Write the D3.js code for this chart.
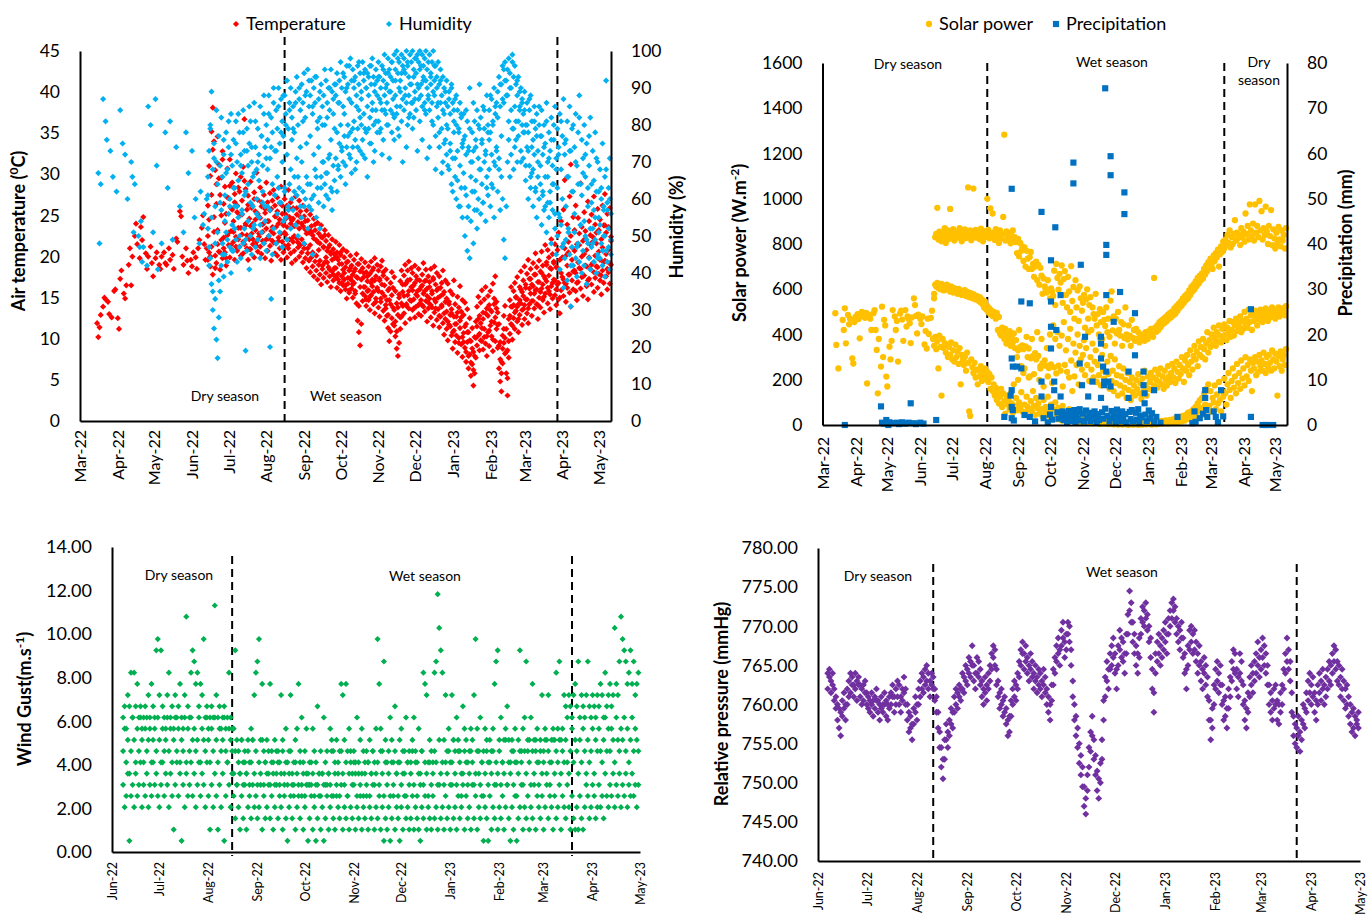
<!DOCTYPE html>
<html>
<head>
<meta charset="utf-8">
<style>
  body { margin: 0; background: #fff; }
  svg text { font-family: Lato, "Open Sans", sans-serif; fill: #000; }
</style>
<script src="https://d3js.org/d3.v7.min.js"></script>
</head>
<body>
<svg width="1368" height="923"></svg>
<script>

// ---- tick labels ----
var monthsTop = ["2022-03-01","2022-04-01","2022-05-01","2022-06-01","2022-07-01","2022-08-01","2022-09-01",
                 "2022-10-01","2022-11-01","2022-12-01","2023-01-01","2023-02-01","2023-03-01","2023-04-01","2023-05-01"];
var monthsBottom = ["2022-06-01","2022-07-01","2022-08-01","2022-09-01","2022-10-01","2022-11-01",
                    "2022-12-01","2023-01-01","2023-02-01","2023-03-01","2023-04-01","2023-05-01"];
var tempTicks = [0, 5, 10, 15, 20, 25, 30, 35, 40, 45];
var humTicks = [0, 10, 20, 30, 40, 50, 60, 70, 80, 90, 100];
var solarTicks = [0, 200, 400, 600, 800, 1000, 1200, 1400, 1600];
var precipTicks = [0, 10, 20, 30, 40, 50, 60, 70, 80];
var windTicks = [0, 2, 4, 6, 8, 10, 12, 14];
var pressTicks = [740, 745, 750, 755, 760, 765, 770, 775, 780];

// season boundaries
var seasonsA = ["2022-08-16", "2023-03-28"];
var seasonsB = ["2022-08-03", "2023-03-14"];
var seasonsC = ["2022-08-16", "2023-03-19"];
var seasonsD = ["2022-08-11", "2023-03-23"];

// ---- air temperature, tenths of a degree, one value per day ----
var tempEarlyStart = "2022-03-15";
var tempEarly = [119,102,114,129,null,139,150,148,null,145,130,null,126,null,
  158,160,null,125,112,173,183,null,155,149,165,null,190,210,
  165,200,null,225,240,215,null,198,236,220,248,null,204,185,
  200,null,212,192,176,null,198,205,null,190,185,200,null,205,
  192,190,null,210,196,null,202,185,null,222,218,null,255,249,
  200,190,null,210,195,180,null,196,188,205,null,199,185,210,
  220,null,235,250,215,196,210];
var denseStart = "2022-06-14";
var tempLow = [196,205,188,212,178,230,201, 192,215,206,184,220,198,210, 205,189,226,214,199,231,208,
  218,196,224,207,235,212,201, 227,204,215,238,210,196,221, 209,228,215,199,232,218,206,
  224,212,203,230,216,198,221, 207,225,213,195,219,228,204, 216,201,223,210,196,218,205,
  213,227,199,210,221,204,192, 218,207,196,222,211,200,214, 205,193,210,198,186,204,195,
  181,199,188,176,194,183,172, 190,178,166,185,174,193,180, 169,187,176,163,182,171,186,
  175,162,179,168,158,176,165, 172,160,149,167,156,174,161, 150,168,155,143,122,108,92,
  118,146,163,152,140,158,147, 135,153,164,142,131,149,160, 138,127,145,156,134,122,141,
  128,113,97,109,125,138,116, 103,88,79,95,112,127,140, 131,119,142,153,137,124,146,
  135,148,126,139,152,130,143, 128,141,155,133,146,121,137, 149,126,138,116,132,145,123,
  136,114,127,141,119,105,124, 112,98,117,129,104,88,110, 96,118,83,101,122,93,78,
  107,89,72,96,64,81,55, 69,43,58,77,92,104,86, 98,113,87,102,94,79,108,
  91,116,103,85,120,97,112, 89,64,48,36,70,95,82, 58,31,77,106,118,99,125,
  112,134,121,108,129,143,117, 136,124,148,131,119,142,155, 128,146,137,159,142,124,150,
  138,161,147,132,155,170,143, 158,136,164,149,172,153,141, 166,148,131,159,175,152,168,
  145,162,178,156,139,171,160, 183,158,147,169,186,161,175, 152,177,189,164,148,173,185,
  166,192,157,174,188,162,179, 171,154,183,168,195,176,160, 181,167,190];
var tempMid = [225,310,200,275,330,248,186, 264,232,295,205,250,318,223, 241,198,272,229,286,214,257,
  230,266,212,254,221,279,235, 251,218,292,240,226,263,209, 237,259,221,270,245,213,252,
  228,247,266,219,241,258,234, 243,222,256,231,268,217,249, 236,255,219,245,228,262,241,
  229,251,236,214,258,240,222, 246,225,238,259,217,234,248, 221,237,215,243,228,210,232,
  214,230,205,222,239,201,218, 208,195,224,189,212,226,199, 193,211,184,205,196,178,203,
  186,199,172,191,205,168,184, 180,165,193,174,159,186,171, 166,182,158,175,191,140,163,
  172,155,180,163,148,176,159, 151,168,183,157,171,145,162, 158,173,149,166,181,152,137,
  147,129,161,142,153,118,135, 121,109,138,150,126,143,157, 152,166,140,171,158,147,163,
  159,137,168,154,172,141,160, 147,165,139,158,171,152,144, 163,141,155,172,148,137,159,
  150,128,162,139,154,131,145, 133,121,142,115,131,108,127, 118,104,132,95,113,126,102,
  96,115,84,108,79,98,71, 88,62,79,101,115,124,106, 119,97,124,112,131,103,128,
  110,135,121,99,142,126,137, 117,92,75,58,88,112,101, 84,52,97,128,139,116,141,
  132,150,139,124,147,160,135, 152,141,166,148,137,161,173, 146,164,155,178,160,141,169,
  157,180,166,151,173,190,162, 177,154,185,168,194,171,160, 186,168,150,180,199,172,210,
  167,189,205,178,225,196,182, 207,180,168,193,214,185,200, 176,203,222,188,171,199,215,
  190,218,181,201,229,187,206, 196,177,211,193,238,203,185, 208,192,219];
var tempHigh = [262,245,298,352,381,340,305, 288,346,312,275,296,328,264, 285,252,307,271,318,259,290,
  243,276,301,262,284,251,297, 268,309,367,282,257,274,246, 291,263,240,278,255,302,269,
  248,284,261,239,275,253,290, 266,243,277,258,236,281,262, 249,272,240,265,285,252,238,
  270,246,262,281,248,266,244, 259,237,273,251,242,268,255, 240,262,249,233,256,244,229,
  251,237,226,246,232,220,241, 228,216,238,223,211,232,219, 207,226,214,203,221,209,198,
  218,205,196,214,202,191,209, 199,187,206,194,183,201,189, 178,196,185,203,174,191,182,
  197,186,175,193,181,170,188, 179,194,172,186,198,176,190, 183,171,188,195,177,165,184,
  173,159,147,168,181,162,175, 158,143,129,154,170,183,166, 177,190,168,183,194,172,186,
  180,165,189,176,158,185,171, 163,178,192,170,184,161,176, 169,185,158,174,188,166,180,
  161,176,152,168,183,157,171, 149,167,145,158,136,154,171, 142,127,151,138,164,133,147,
  129,144,118,136,108,125,97, 113,84,102,121,139,151,128, 144,159,132,148,163,137,152,
  141,158,133,167,149,176,145, 132,118,96,72,104,128,140, 112,86,124,147,163,139,158,
  168,151,175,142,163,182,157, 171,188,162,179,196,173,185, 166,192,178,204,187,169,195,
  182,206,189,176,214,193,208, 199,186,221,203,192,215,187, 208,229,196,243,212,257,293,
  201,239,218,273,312,211,248, 232,262,215,247,228,289,236, 219,254,231,208,267,243,226,
  251,224,273,239,216,258,232, 245,221,262,238,276,229,252, 236,259,224];

// ---- humidity, % ----
var humEarly = [null,67,48,64,null,87,null,81,76,null,null,73,null,66,
  null,null,62,null,null,84,null,75,null,72,null,60,null,null,
  70,66,51,64,null,null,50,47,54,43,47,null,null,42,
  85,null,80,null,51,null,87,69,41,null,null,48,null,null,
  78,null,63,null,81,null,49,null,null,74,null,null,58,null,
  null,51,null,78,null,67,null,null,73,null,55,60,null,null,
  48,62,null,53,56,null,60];
var humLow = [52,47,44,37,30,25,33, 22,17,28,35,42,48,39, 45,51,43,56,47,40,53,
  46,58,49,43,55,50,44, 57,48,52,19,46,54,41, 50,45,58,53,47,60,49,
  55,44,51,59,48,54,46, 58,50,20,33,45,52,61, 48,56,63,51,59,47,54,
  62,55,49,58,64,52,60, 57,66,53,61,50,63,58, 55,62,48,60,66,52,58,
  64,57,45,61,68,55,63, 59,52,66,70,58,64,61, 67,60,72,63,57,69,65,
  71,62,68,75,66,73,70, 77,69,74,80,72,78,67, 74,81,76,70,79,84,73,
  80,76,83,71,78,85,79, 82,75,86,80,73,84,78, 81,87,79,84,76,88,83,
  86,80,89,84,78,87,82, 88,83,79,90,85,81,87, 84,90,86,80,88,83,91,
  86,82,89,84,91,87,81, 88,85,92,86,83,90,87, 84,91,86,80,88,77,85,
  82,74,86,79,70,83,76, 72,79,68,75,64,71,78, 66,60,73,58,69,63,55,
  67,50,61,46,58,44,54, 62,48,57,65,52,60,68, 56,64,59,70,54,66,61,
  68,58,72,63,55,69,74, 62,71,57,66,60,49,44, 58,70,76,66,72,79,68,
  74,81,70,77,84,73,80, 71,78,65,74,60,69,63, 67,58,72,62,55,66,60,
  64,53,61,57,66,51,59, 55,62,48,57,64,52,45, 50,56,41,53,47,36,44,
  49,38,52,45,31,47,42, 51,44,39,48,43,53,40, 46,42,50,37,48,44,41,
  47,52,43,49,40,45,51, 44,48,42,50,39,46,43, 47,41,49];
var humMid = [66,42,79,55,35,71,48, 84,51,38,69,57,45,76, 54,67,49,81,60,72,46,
  63,52,75,58,83,47,69, 56,78,61,49,73,64,85, 59,74,52,67,81,56,70,
  65,53,77,62,88,58,71, 68,83,57,74,64,90,61, 73,66,85,59,78,70,88,
  63,80,72,57,84,68,76, 79,62,86,71,66,90,74, 70,81,58,88,75,64,92,
  77,60,85,72,93,66,81, 74,89,63,80,70,95,67, 82,71,90,76,62,87,79,
  91,78,69,86,80,74,94, 83,64,90,77,96,71,86, 79,92,68,85,74,97,82,
  87,72,94,79,90,66,93, 75,96,84,70,91,81,88, 93,78,86,72,95,84,90,
  80,94,71,89,97,83,76, 92,85,98,77,89,94,70, 95,88,74,97,82,91,86,
  79,93,87,98,73,90,95, 91,76,96,84,92,71,88, 74,93,81,89,96,68,90,
  86,78,92,67,84,75,89, 80,69,87,73,91,62,84, 71,88,65,79,58,83,74,
  76,63,84,55,73,90,66, 70,86,62,74,57,80,91, 68,75,59,84,72,63,78,
  76,88,64,80,70,85,73, 82,68,91,77,96,86,92, 88,95,81,90,84,97,79,
  85,76,92,81,89,70,86, 78,84,69,80,73,87,66, 74,68,81,63,77,70,85,
  69,77,62,74,58,81,66, 71,59,76,64,80,56,68, 63,72,55,81,60,48,75,
  58,66,51,73,42,62,80, 56,70,47,64,82,53,61, 67,54,72,49,63,77,52,
  59,48,65,55,71,44,62, 53,63,46,58,50,68,57, 52,60,45];
var humHigh = [61,73,80,89,68,75,58, 70,64,77,59,82,66,72, 61,78,68,74,58,83,69,
  76,63,81,70,65,78,72, 67,84,73,62,79,69,75, 81,70,66,86,74,68,79,
  72,85,77,69,83,74,80, 76,88,71,82,78,86,73, 84,79,90,75,87,81,77,
  88,83,92,79,86,90,82, 85,78,89,93,80,87,84, 91,86,94,82,89,95,85,
  88,92,83,90,86,93,79, 87,82,91,85,88,80,92, 86,90,84,95,89,83,91,
  88,94,86,92,97,90,85, 93,89,96,91,87,98,92, 95,90,93,88,96,91,94,
  89,97,92,95,90,94,88, 96,91,98,93,89,95,92, 97,93,90,96,92,99,94,
  91,98,95,93,97,92,99, 95,100,94,97,92,99,96, 98,94,100,96,93,99,97,
  100,95,98,94,99,97,100, 96,99,93,98,100,95,97, 99,94,97,100,92,96,93,
  97,91,95,88,93,90,86, 92,85,89,83,90,86,81, 87,80,84,78,86,82,75,
  83,77,72,81,74,79,70, 78,73,81,76,84,71,79, 82,76,85,79,73,88,80,
  84,78,87,81,90,83,86, 89,93,85,91,87,95,97, 92,88,98,94,90,99,93,
  96,91,88,93,85,90,87, 83,89,80,86,78,84,88, 81,76,85,79,83,73,80,
  77,84,72,80,75,86,70, 78,73,82,69,76,85,71, 79,74,83,68,77,87,72,
  76,81,66,85,73,79,62, 74,83,69,78,88,64,76, 71,80,66,75,58,69,82,
  64,73,57,78,62,70,55, 68,60,75,57,66,92,59, 63,71,56];

// ---- solar power, W/m2 ----
var solarEarlyStart = "2022-03-09";
var solarEarly = [null,null,null,null,494,354,null, 250,null,null,null,464,420,516,
  361,null,486,445,470,null,295, 272,455,478,null,490,468,383,
  null,500,482,null,474,495,184, null,486,470,420,null,494,508,
  420,332,140,380,null,258,523, 300,465,440,214,170,null,346,
  290,372,508,null,480,420,460, 280,null,493,505,466,372,null,
  508,435,480,470,450,362,475, null,560,530,482,405,488,null,
  470,446,480,null,356,415,338, 470,402,null,474,505,380];
var solarTop = [580,830,845,960,820,855,838, 812,850,826,870,805,842,860, 822,955,848,831,866,815,840,
  853,828,845,870,836,812,858, 842,865,826,851,1050,834,860, 817,849,1045,835,862,828,846,
  855,821,868,839,812,857,830, 846,1000,862,825,958,840,935, 851,818,866,832,848,805,860,
  826,842,920,1283,815,856,835, 820,848,803,836,860,812,830, 808,760,822,745,805,770,790,
  725,785,700,770,735,690,742, 765,690,712,655,700,722,640, 708,620,695,660,580,648,612,
  600,585,640,596,560,604,590, 570,682,530,712,650,598,668, 630,705,540,645,680,575,520,
  655,590,500,702,548,610,470, 640,520,595,460,612,560,505, 540,575,430,555,600,470,530,
  565,420,520,490,470,580,440, 490,400,512,455,380,500,465, 438,520,410,470,390,550,590,
  418,480,360,470,405,500,420, 395,455,350,445,385,520,400, 378,440,395,350,465,385,420,
  372,425,380,410,365,392,375, 385,400,372,410,392,380,415, 398,425,405,390,650,430,412,
  440,420,455,432,462,445,470, 452,478,460,488,470,495,476, 502,485,515,492,525,505,535,
  518,545,528,560,540,570,552, 580,560,595,575,610,590,620, 600,635,615,650,625,660,640,
  670,648,690,665,705,680,720, 695,735,710,690,750,725,760, 740,775,700,755,790,765,810,
  780,820,795,840,805,860,785, 830,800,845,905,815,850,825, 840,795,870,830,855,810,935,
  845,880,820,975,860,835,890, 815,975,850,880,830,990,860, 945,820,870,840,965,855,800,
  880,835,950,795,865,825,780, 850,805,875,820,790,860,815, 840,780,870];
var solarMid = [560,620,612,628,605,618,600, 624,610,595,615,602,620,598, 608,590,612,600,585,605,592,
  598,580,602,588,595,575,590, 582,596,570,588,578,565,584, 572,560,578,566,555,570,560,
  548,565,540,555,532,520,545, 510,525,498,515,490,505,482, 500,488,470,495,420,478,405,
  395,430,410,380,425,360,398, 372,415,350,390,365,405,340, 375,300,330,420,345,260,352,
  335,250,348,390,300,338,215, 295,380,305,225,318,290,410, 305,200,260,380,272,170,285,
  262,340,215,252,400,268,185, 440,255,380,228,410,262,350, 240,395,170,455,265,330,235,
  380,210,425,285,150,360,215, 320,265,400,180,350,290,245, 310,375,220,340,265,410,195,
  300,245,360,210,280,330,190, 265,220,385,175,310,240,205, 350,180,280,225,160,305,195,
  240,150,290,185,220,130,260, 175,215,140,250,165,200,120, 230,155,190,110,210,145,175,
  130,200,160,225,140,185,115, 205,150,240,175,130,215,160, 190,230,155,210,175,245,200,
  165,225,190,250,180,215,160, 240,200,175,260,215,190,230, 270,210,250,185,280,235,205,
  265,225,300,250,190,285,240, 310,265,220,330,280,245,305, 350,290,325,260,370,310,345,
  300,380,335,290,360,410,320, 375,345,400,360,430,385,350, 410,370,440,395,365,425,385,
  445,400,375,430,410,460,390, 420,455,395,440,470,415,450, 435,480,410,460,425,500,445,
  470,430,510,455,485,420,490, 460,505,475,440,495,465,510, 480,455,500,470,515,490,460,
  505,475,495,520,485,500,470, 510,490,520,480,505,495,515, 500,485,525];
var solarLow = [350,390,335,370,250,395,345, 130,380,340,362,320,355,300, 345,310,365,290,330,280,355,
  300,325,270,340,180,310,285, 265,300,240,320,275,60,40, 290,255,230,275,210,245,180,
  240,215,260,195,235,220,250, 205,235,190,225,160,210,150, 180,130,165,110,145,95,125,
  160,80,140,105,50,130,90, 115,70,140,95,55,180,85, 120,65,200,100,75,145,60,
  230,90,55,125,80,210,70, 105,60,150,85,45,120,75, 95,50,250,70,40,110,65,
  80,45,125,60,35,90,55, 70,30,100,50,25,75,40, 60,20,85,35,55,15,45,
  30,70,20,50,25,40,15, 55,20,35,10,45,25,30, 15,40,20,35,10,30,18,
  25,12,35,8,22,15,28, 10,20,5,18,12,25,6, 15,8,20,4,12,18,6,
  10,3,14,6,9,2,12, 5,11,2,8,4,10,3, 7,1,9,4,6,2,8,
  3,10,5,1,7,4,9, 2,6,11,3,8,5,12, 4,9,2,14,6,10,3,
  12,5,15,8,18,6,14, 9,20,12,6,16,22,10, 18,25,14,30,20,12,28,
  22,35,16,40,28,20,45, 30,55,38,25,60,42,70, 50,80,35,95,60,110,75,
  120,45,140,90,160,65,180, 85,150,60,120,100,175,70, 135,95,190,110,60,150,125,
  205,140,90,180,230,155,120, 195,250,165,215,140,270,185, 230,160,285,205,250,175,300,
  215,265,195,290,240,150,275, 250,300,220,280,235,310,260, 285,240,320,270,230,300,255,
  310,275,240,330,290,250,315, 280,130,305,260,325,240,290, 310,265,335];

// ---- precipitation, [days after 2022-03-01, mm] ----
var precipStart = "2022-03-01";
var precip = [[21,0],[55,4.1],[56,0.5],[58,0.3],[60,1.1],[62,0],[63,0.6],[66,0.4],[70,0.5],[72,0.2],
  [75,0.6],[78,0.3],[81,0.5],[83,4.8],[86,0.4],[88,0.2],[92,0.5],[95,0.3],[107,1.1],
  [171,1.8],[177,6.5],[178,14.7],[178,7.7],[178,4],[178,1.5],[178,52.2],[179,12.9],[179,3.3],[180,1.0],
  [183,12.9],[187,12.5],[187,27.3],[190,2.2],[195,26.9],[195,1.8],[200,0.8],[206,47.1],[206,9.6],[206,6.3],
  [208,1.5],[212,0.6],[214,2.3],[215,36.4],[215,27.3],[215,21.7],[215,16.9],[215,4.0],[216,1.2],[218,9.6],
  [218,7.7],[219,43.7],[220,21.0],[221,2.8],[222,1.4],[224,28.7],[224,6.3],[225,2.0],[226,3.0],[227,1.1],
  [229,2.4],[230,0.5],[231,1.8],[232,3.1],[233,0.9],[234,2.6],[236,58.0],[236,53.4],[236,1.5],[237,3.3],
  [238,0.7],[239,2.1],[240,1.4],[241,2.9],[242,13.6],[242,3.5],[243,35.4],[243,1.0],[244,8.8],[245,2.5],
  [246,0.8],[247,19.5],[248,3.2],[249,1.6],[250,6.3],[251,2.7],[252,0.9],[254,9.6],[254,2.2],[255,1.3],
  [256,3.0],[258,0.6],[259,2.4],[260,1.1],[262,19.5],[262,18.0],[262,14.7],[262,6.0],[263,2.8],[264,12.9],
  [264,1.4],[265,9.6],[265,8.8],[266,74.4],[266,3.6],[267,28.7],[267,39.8],[267,37.6],[267,11.8],[268,2.0],
  [269,9.6],[270,0.8],[271,59.4],[271,55.2],[271,8.5],[272,3.1],[273,1.5],[274,22.8],[274,2.6],[276,0.7],
  [277,3.4],[278,1.9],[280,29.4],[280,2.2],[281,0.9],[282,3.0],[283,1.6],[284,51.4],[284,46.6],[285,2.4],
  [286,0.6],[288,11.8],[288,6.0],[289,2.9],[290,1.3],[291,3.3],[292,0.8],[294,24.7],[294,15.4],[295,2.7],
  [296,1.2],[297,3.5],[298,0.5],[299,2.1],[300,1.7],[302,11.8],[302,8.8],[303,7.0],[303,4.8],[304,2.3],
  [305,0.9],[307,3.2],[308,1.4],[310,2.6],[312,7.7],[312,0.7],[314,1.8],[318,0.5],[334,1.8],[348,0.4],
  [350,3.0],[351,0.7],[355,1.5],[358,2.5],[360,7.7],[360,6.0],[361,3.3],[362,1.8],[368,3.0],[370,1.8],
  [372,0.6],[375,7.7],[377,1.9],[403,25.6],[403,1.8],[414,0],[417,0],[420,0],[424,0]];

// ---- wind gust, knots (1 kn = 0.5144 m/s) ----
var windStart = "2022-06-08";
var windA = [6,4,5,7,1,5,6, 4,7,5,6,8,4,6, 5,7,4,6,5,8,6, 7,5,4,6,8,5,7, 6,4,7,5,2,6,8,
  5,7,1,6,4,7,5, 6,8,5,7,4,6,8, 5,7,6,4,8,5,2, 6,4,7,5,2,6,4, 7,1,5,8,6,4,7,
  5,3,6,4,2,5,3, 6,2,4,5,3,6,4, 5,3,4,6,2,5,3, 4,6,3,5,2,4,6, 3,5,4,2,6,3,1,
  4,5,3,6,2,4,5, 3,5,2,4,6,1,3, 5,2,4,1,3,5,2, 4,1,3,6,2,4,5, 3,2,5,4,3,6,2,
  4,3,5,2,4,3,6, 2,4,3,5,2,4,3, 5,2,4,3,6,2,4, 3,5,2,4,1,3,2, 4,1,3,5,2,4,3,
  1,4,2,5,3,4,2, 3,5,2,4,3,2,1, 4,3,5,2,4,3,2, 5,3,4,2,6,3,4, 2,5,3,4,2,6,3,
  4,2,5,3,4,6,2, 5,3,4,2,6,3,5, 2,4,3,5,1,4,3, 1,5,2,4,3,6,2, 4,3,5,2,4,6,3,
  1,4,2,5,1,3,4, 6,2,4,3,5,2,4, 3,6,2,5,4,3,5, 2,4,6,3,5,4,2, 5,3,4,6,2,5,4,
  3,6,4,2,5,3,2, 4,2,5,3,2,4,6, 5,3,4,6,5,3,4, 6,4,5,3,7,5,4, 6,5,7,4,6,5,7,
  4,6,5,7,4,6,5, 7,5,6,4,6];
var windB = [9,11,8,10,7,9,12, 10,8,11,9,12,10,8, 11,9,10,12,8,10,11, 9,12,10,8,11,9,10, 12,9,11,8,10,12,9,
  11,8,10,9,12,8,11, 9,12,10,11,9,10,12, 8,11,10,9,12,10,8, 11,9,12,10,8,11,9, 10,12,9,8,11,10,9,
  7,9,6,8,7,10,6, 8,7,9,6,8,10,7, 9,6,8,7,10,6,8, 7,9,6,8,7,6,9, 8,6,7,9,5,8,6,
  7,9,6,5,8,7,6, 9,6,8,5,7,6,8, 6,7,5,8,6,7,5, 7,6,8,5,7,6,9, 5,7,6,8,5,9,7,
  6,8,5,7,9,6,8, 7,5,8,6,7,5,8, 6,8,5,7,9,6,7, 8,6,9,7,5,8,6, 7,5,8,6,9,7,5,
  8,6,7,9,5,8,6, 7,9,6,8,5,7,6, 9,6,8,7,5,8,6, 7,9,8,6,10,7,8, 6,8,7,9,6,8,10,
  7,6,9,8,5,7,9, 8,6,7,9,8,6,7, 9,7,6,8,5,7,9, 6,8,7,9,6,8,7, 9,6,8,7,10,6,8,
  7,9,6,8,5,7,9, 8,6,9,7,10,8,6, 9,7,10,8,6,9,7, 8,10,7,9,6,8,10, 7,9,8,10,7,9,8,
  10,8,7,9,11,8,10, 9,7,10,8,11,9,7, 10,8,9,11,7,10,9, 11,9,8,10,12,9,11, 9,11,10,8,12,10,9,
  11,10,12,9,11,8,10, 12,9,11,10,9];
var windC = [12,13,11,14,13,16,12, 16,13,15,12,13,11,12, 13,12,14,11,15,13,12, 18,19,14,18,13,12,11,
  14,16,12,13,11,14,12, 13,15,12,11,14,21,13, 12,16,18,17,15,16,13, 15,14,19,12,13,11,12,
  13,12,22,14,12,13,11, 12,13,11,12,16,12,11, 11,18,10,9,7,10,8, 9,7,10,8,11,10,14,
  16,17,19,10,15,9,8, 10,7,15,9,8,10,7, 9,8,14,10,7,11,8, 9,14,7,8,10,11,15,
  8,12,7,9,11,7,6, 8,11,9,6,13,7,9, 7,12,6,9,7,11,10, 9,8,10,7,9,15,14,
  10,15,9,11,8,7,9, 8,12,7,10,11,9,7, 9,8,10,7,9,8,11, 19,15,11,9,17,10,8,
  9,12,10,8,13,7,8, 10,11,9,7,12,8,9, 8,10,12,9,8,11,7, 9,16,15,14,8,10,9,
  8,16,17,23,20,18,16, 10,14,9,11,8,14,10, 9,12,10,9,7,13,11, 10,8,9,11,10,14,19,
  11,9,12,8,9,11,10, 8,10,9,11,15,17,18, 10,12,8,10,11,13,10, 8,10,9,11,8,10,18,
  9,11,12,17,9,10,12, 15,10,9,11,8,10,14, 9,11,10,14,8,10,11, 10,16,11,17,10,11,14,
  13,12,14,13,12,14,15, 13,17,12,14,13,12,14, 17,13,12,14,13,12,14, 13,15,14,12,16,13,14,
  15,13,14,20,15,14,17, 21,19,18,17,15,16,18, 15,17,14,15,16];

// ---- relative pressure, tenths of mmHg ----
var pressStart = "2022-06-07";
var pressA = [7620,7635,7615,7625,7605,7595,7580, 7570,7560,7585,7595,7580,7600,7610, 7615,7625,7610,7620,7605,7625,7610,
  7600,7605,7615,7600,7595,7590,7600, 7585,7595,7605,7590,7580,7595,7590, 7600,7585,7580,7595,7600,7610,7590,
  7600,7610,7600,7590,7605,7615,7600, 7580,7565,7570,7555,7575,7590,7580, 7600,7610,7620,7615,7625,7630,7620,
  7610,7625,7620,7605,7590,7570,7545, 7520,7505,7530,7555,7545,7560,7575, 7570,7590,7600,7595,7610,7605,7620,
  7615,7630,7625,7640,7635,7650,7630, 7620,7640,7635,7625,7610,7600,7615, 7605,7620,7630,7645,7660,7650,7625,
  7610,7595,7600,7585,7590,7575,7560, 7565,7585,7600,7610,7605,7620,7635, 7650,7665,7645,7655,7640,7630,7645,
  7635,7620,7630,7615,7625,7620,7610, 7625,7615,7600,7590,7580,7605,7625, 7640,7655,7665,7650,7675,7685,7660,
  7670,7690,7680,7650,7610,7580,7560, 7545,7525,7510,7495,7470,7460,7490, 7520,7540,7560,7530,7510,7490,7480,
  7500,7530,7580,7610,7630,7620,7645, 7650,7660,7640,7620,7650,7670,7660, 7655,7640,7665,7690,7720,7705,7680,
  7665,7650,7640,7660,7690,7705,7700, 7710,7695,7680,7660,7620,7590,7640, 7655,7665,7650,7660,7670,7680,7665,
  7690,7700,7710,7720,7705,7690,7680, 7670,7685,7660,7640,7620,7650,7670, 7680,7665,7670,7655,7640,7650,7630,
  7620,7640,7625,7610,7580,7555,7570, 7600,7620,7630,7615,7625,7600,7580, 7585,7570,7595,7610,7630,7645,7640,
  7620,7610,7640,7630,7600,7580,7570, 7590,7610,7625,7615,7630,7640,7650, 7635,7645,7660,7650,7640,7625,7600,
  7590,7580,7595,7600,7580,7575,7590, 7600,7620,7640,7655,7645,7630,7590, 7560,7550,7545,7560,7540,7555,7575,
  7570,7590,7605,7615,7600,7610,7590, 7580,7600,7615,7605,7620,7600,7610, 7620,7630,7625,7640,7655,7645,7630,
  7625,7610,7620,7605,7595,7600,7585, 7575,7565,7570,7560,7575,7570];
var pressB = [7640,7645,7630,7640,7620,7610,7600, 7595,7590,7605,7615,7600,7620,7630, 7640,7635,7625,7640,7630,7635,7625,
  7620,7625,7630,7615,7610,7605,7615, 7605,7610,7620,7605,7600,7610,7600, 7615,7605,7600,7610,7615,7625,7610,
  7620,7630,7625,7610,7620,7635,7620, 7600,7590,7585,7575,7595,7610,7600, 7620,7630,7640,7635,7645,7650,7640,
  7630,7640,7635,7620,7610,7590,7565, 7545,7530,7555,7575,7565,7580,7595, 7590,7610,7620,7615,7625,7620,7640,
  7635,7650,7645,7660,7655,7675,7650, 7640,7660,7655,7645,7630,7620,7635, 7625,7640,7650,7665,7675,7670,7645,
  7630,7615,7620,7605,7610,7595,7580, 7585,7605,7620,7630,7625,7640,7655, 7670,7680,7665,7675,7660,7650,7665,
  7655,7640,7650,7635,7645,7640,7630, 7645,7635,7620,7610,7600,7625,7645, 7660,7675,7685,7670,7695,7705,7680,
  7690,7705,7700,7670,7630,7600,7585, 7570,7550,7535,7520,7495,7480,7510, 7545,7565,7585,7555,7535,7515,7505,
  7525,7555,7605,7635,7655,7645,7665, 7675,7685,7665,7645,7675,7695,7685, 7680,7665,7690,7715,7745,7730,7705,
  7690,7675,7665,7685,7710,7725,7720, 7730,7715,7700,7685,7645,7615,7665, 7680,7690,7675,7685,7695,7705,7690,
  7710,7720,7730,7735,7725,7710,7700, 7695,7705,7685,7665,7645,7675,7695, 7700,7690,7695,7680,7665,7675,7655,
  7645,7660,7650,7635,7605,7580,7595, 7625,7645,7655,7640,7650,7625,7605, 7610,7595,7620,7635,7655,7670,7665,
  7645,7635,7665,7655,7625,7605,7595, 7615,7635,7650,7640,7655,7665,7680, 7660,7670,7685,7675,7665,7650,7625,
  7615,7605,7620,7625,7605,7600,7615, 7625,7645,7665,7685,7670,7655,7615, 7585,7575,7570,7585,7565,7580,7600,
  7595,7615,7630,7640,7625,7635,7615, 7605,7625,7640,7630,7645,7625,7635, 7645,7655,7650,7665,7675,7670,7655,
  7650,7635,7645,7630,7620,7625,7610, 7600,7590,7595,7585,7580,7590];

// ================= drawing =================
var svg = d3.select("svg");
var parseDay = d3.timeParse("%Y-%m-%d");
var fmtMonth = d3.timeFormat("%b-%y");

function daily(values, start, conv) {
  var t0 = parseDay(start), out = [];
  values.forEach(function(v, i) {
    if (v === null) return;
    out.push({ date: d3.timeDay.offset(t0, i), value: conv ? conv(v) : v });
  });
  return out;
}
function tenths(v) { return v / 10; }
function knots(v) { return v * 0.5144; }

// Excel-style diamond (square turned 45 degrees)
var diamondType = {
  draw: function(ctx, size) {
    var r = Math.sqrt(size / 2);
    ctx.moveTo(0, -r); ctx.lineTo(r, 0); ctx.lineTo(0, r); ctx.lineTo(-r, 0); ctx.closePath();
  }
};
var diamond = d3.symbol(diamondType, 19)();
var bigDiamond = d3.symbol(diamondType, 24)();
var circle = d3.symbol(d3.symbolCircle, 31)();
var square = d3.symbol(d3.symbolSquare, 38)();

function plotPoints(data, x, y, shape, color) {
  svg.append("g").attr("fill", color)
    .selectAll("path").data(data).join("path")
    .attr("d", shape)
    .attr("transform", function(d) { return "translate(" + x(d.date).toFixed(1) + "," + y(d.value).toFixed(1) + ")"; });
}

function monthAxis(x, yPos, ticks, size, gap) {
  var g = svg.append("g").attr("transform", "translate(0," + yPos + ")")
    .call(d3.axisBottom(x).tickValues(ticks.map(parseDay)).tickSize(0).tickFormat(fmtMonth));
  g.select(".domain").attr("stroke", "#000").attr("stroke-width", 2);
  g.selectAll(".tick text")
    .attr("transform", "rotate(-90)")
    .attr("text-anchor", "end")
    .attr("x", -gap).attr("y", 0).attr("dy", "0.35em")
    .style("font-size", size + "px");
}

function valueAxis(side, xPos, y, ticks, fmt, size) {
  var axis = (side === "left" ? d3.axisLeft(y) : d3.axisRight(y))
    .tickValues(ticks).tickSize(0).tickPadding(20).tickFormat(fmt);
  var g = svg.append("g").attr("transform", "translate(" + xPos + ",0)").call(axis);
  g.select(".domain").attr("stroke", "#000").attr("stroke-width", 2);
  g.selectAll(".tick text").style("font-size", size + "px");
}

function seasonLines(x, dates, y1, y2) {
  svg.append("g").selectAll("line").data(dates.map(parseDay)).join("line")
    .attr("x1", function(d) { return x(d); }).attr("x2", function(d) { return x(d); })
    .attr("y1", y1).attr("y2", y2)
    .attr("stroke", "#000").attr("stroke-width", 2).attr("stroke-dasharray", "8,5");
}

function note(txt, x, y) {
  svg.append("text").attr("x", x).attr("y", y).attr("text-anchor", "middle")
    .style("font-size", "14px").text(txt);
}

function axisTitle(parts, cx, cy) {
  var t = svg.append("text")
    .attr("transform", "translate(" + cx + "," + cy + ") rotate(-90)")
    .attr("text-anchor", "middle").attr("dy", "0.35em")
    .style("font-weight", "bold").style("font-size", "18px");
  parts.forEach(function(p) {
    var s = t.append("tspan").text(p[0]);
    if (p[1]) s.attr("baseline-shift", "super").style("font-size", "12px");
  });
}

function legendItem(shape, color, mx, my, txt) {
  svg.append("path").attr("d", shape).attr("fill", color)
    .attr("transform", "translate(" + mx + "," + my + ")");
  svg.append("text").attr("x", mx + 10).attr("y", my + 6).style("font-size", "18px").text(txt);
}

// ---------- Panel A: temperature / humidity ----------
var xA = d3.scaleTime().domain([parseDay("2022-03-01"), parseDay("2023-05-11")]).range([80, 611]);
var yTemp = d3.scaleLinear().domain([0, 45]).range([421, 51]);
var yHum = d3.scaleLinear().domain([0, 100]).range([421, 51]);

seasonLines(xA, seasonsA, 37, 421);
plotPoints(daily(tempEarly, tempEarlyStart, tenths)
  .concat(daily(tempLow, denseStart, tenths), daily(tempMid, denseStart, tenths), daily(tempHigh, denseStart, tenths)),
  xA, yTemp, diamond, "#FF0000");
plotPoints(daily(humEarly, tempEarlyStart)
  .concat(daily(humLow, denseStart), daily(humMid, denseStart), daily(humHigh, denseStart)),
  xA, yHum, diamond, "#00B0F0");
monthAxis(xA, 421, monthsTop, 16, 9);
valueAxis("left", 80, yTemp, tempTicks, d3.format("d"), 17.5);
valueAxis("right", 611, yHum, humTicks, d3.format("d"), 17.5);
note("Dry season", 225, 401);
note("Wet season", 346, 401);
axisTitle([["Air temperature ("], ["0", true], ["C)"]], 19, 231);
axisTitle([["Humidity (%)"]], 677, 227);
legendItem(diamond, "#FF0000", 236, 24, "Temperature");
legendItem(diamond, "#00B0F0", 389, 24, "Humidity");

// ---------- Panel B: solar power / precipitation ----------
var xB = d3.scaleTime().domain([parseDay("2022-03-01"), parseDay("2023-05-12")]).range([822.5, 1287]);
var ySolar = d3.scaleLinear().domain([0, 1600]).range([425, 63]);
var yPrecip = d3.scaleLinear().domain([0, 80]).range([425, 63]);
var precipPoints = precip.map(function(p) {
  return { date: d3.timeDay.offset(parseDay(precipStart), p[0]), value: p[1] };
});

seasonLines(xB, seasonsB, 63, 425);
plotPoints(daily(solarEarly, solarEarlyStart)
  .concat(daily(solarTop, denseStart), daily(solarMid, denseStart), daily(solarLow, denseStart)),
  xB, ySolar, circle, "#FFC000");
plotPoints(precipPoints, xB, yPrecip, square, "#0070C0");
monthAxis(xB, 425, monthsTop, 16, 12);
valueAxis("left", 822.5, ySolar, solarTicks, d3.format("d"), 17.5);
valueAxis("right", 1287, yPrecip, precipTicks, d3.format("d"), 17.5);
note("Dry season", 908, 69);
note("Wet season", 1112, 67);
note("Dry", 1259, 67);
note("season", 1259, 85);
axisTitle([["Solar power (W.m"], ["-2", true], [")"]], 740, 243);
axisTitle([["Precipitation (mm)"]], 1346, 243);
legendItem(circle, "#FFC000", 929, 24, "Solar power");
legendItem(square, "#0070C0", 1056, 24, "Precipitation");

// ---------- Panel C: wind gust ----------
var xC = d3.scaleTime().domain([parseDay("2022-06-01"), parseDay("2023-05-01")]).range([112, 640]);
var yWind = d3.scaleLinear().domain([0, 14]).range([852, 547]);

seasonLines(xC, seasonsC, 556, 856);
plotPoints(daily(windA, windStart, knots)
  .concat(daily(windB, windStart, knots), daily(windC, windStart, knots)), xC, yWind, diamond, "#00B050");
monthAxis(xC, 852, monthsBottom, 12.5, 10);
valueAxis("left", 112, yWind, windTicks, d3.format(".2f"), 18);
note("Dry season", 179, 580);
note("Wet season", 425, 581);
axisTitle([["Wind Gust(m.s"], ["-1", true], [")"]], 25, 699);

// ---------- Panel D: relative pressure ----------
var xD = d3.scaleTime().domain([parseDay("2022-06-01"), parseDay("2023-05-01")]).range([818, 1360]);
var yPress = d3.scaleLinear().domain([740, 780]).range([861, 548]);

seasonLines(xD, seasonsD, 564, 861);
plotPoints(daily(pressA, pressStart, tenths)
  .concat(daily(pressB, pressStart, tenths)), xD, yPress, bigDiamond, "#7030A0");
monthAxis(xD, 861, monthsBottom, 12.5, 11);
valueAxis("left", 818, yPress, pressTicks, d3.format(".2f"), 18);
note("Dry season", 878, 581);
note("Wet season", 1122, 577);
axisTitle([["Relative pressure (mmHg)"]], 722, 704);

</script>
</blockquote>
</body>
</html>
